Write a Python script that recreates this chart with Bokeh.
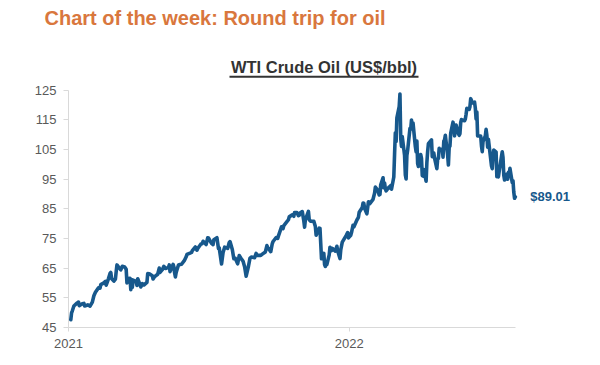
import pandas as pd
from bokeh.plotting import figure
from bokeh.models import (Range1d, FixedTicker, DatetimeTickFormatter, Label,
                          BoxAnnotation, ColumnDataSource, Title)
from bokeh.embed import file_html
from bokeh.resources import INLINE

# ---------------- data (WTI crude, US$/bbl) ----------------
dates_2021 = [
    "2021-01-04", "2021-01-05", "2021-01-06", "2021-01-08", "2021-01-12", "2021-01-14", "2021-01-15",
    "2021-01-19", "2021-01-21", "2021-01-22", "2021-01-26", "2021-01-28", "2021-01-29", "2021-02-01",
    "2021-02-03", "2021-02-05", "2021-02-09", "2021-02-11", "2021-02-12", "2021-02-16", "2021-02-18",
    "2021-02-19", "2021-02-22", "2021-02-24", "2021-02-25", "2021-02-26", "2021-03-01", "2021-03-03",
    "2021-03-04", "2021-03-05", "2021-03-08", "2021-03-10", "2021-03-12", "2021-03-15", "2021-03-17",
    "2021-03-18", "2021-03-19", "2021-03-22", "2021-03-23", "2021-03-24", "2021-03-25", "2021-03-26",
    "2021-03-30", "2021-03-31", "2021-04-01", "2021-04-05", "2021-04-07", "2021-04-09", "2021-04-13",
    "2021-04-14", "2021-04-16", "2021-04-20", "2021-04-21", "2021-04-23", "2021-04-27", "2021-04-29",
    "2021-04-30", "2021-05-03", "2021-05-05", "2021-05-07", "2021-05-11", "2021-05-12", "2021-05-13",
    "2021-05-17", "2021-05-18", "2021-05-19", "2021-05-20", "2021-05-21", "2021-05-24", "2021-05-26",
    "2021-05-28", "2021-06-01", "2021-06-03", "2021-06-04", "2021-06-08", "2021-06-10", "2021-06-11",
    "2021-06-15", "2021-06-17", "2021-06-18", "2021-06-22", "2021-06-24", "2021-06-25", "2021-06-29",
    "2021-07-01", "2021-07-02", "2021-07-06", "2021-07-08", "2021-07-09", "2021-07-13", "2021-07-15",
    "2021-07-16", "2021-07-19", "2021-07-21", "2021-07-23", "2021-07-27", "2021-07-29", "2021-07-30",
    "2021-08-02", "2021-08-04", "2021-08-06", "2021-08-09", "2021-08-11", "2021-08-13", "2021-08-16",
    "2021-08-18", "2021-08-20", "2021-08-23", "2021-08-25", "2021-08-27", "2021-08-31", "2021-09-02",
    "2021-09-03", "2021-09-08", "2021-09-10", "2021-09-14", "2021-09-16", "2021-09-17", "2021-09-21",
    "2021-09-23", "2021-09-24", "2021-09-28", "2021-09-30", "2021-10-01", "2021-10-05", "2021-10-07",
    "2021-10-08", "2021-10-12", "2021-10-14", "2021-10-15", "2021-10-19", "2021-10-21", "2021-10-22",
    "2021-10-25", "2021-10-27", "2021-10-28", "2021-10-29", "2021-11-01", "2021-11-03", "2021-11-04",
    "2021-11-05", "2021-11-09", "2021-11-10", "2021-11-12", "2021-11-16", "2021-11-18", "2021-11-19",
    "2021-11-23", "2021-11-24", "2021-11-26", "2021-11-29", "2021-11-30", "2021-12-01", "2021-12-02",
    "2021-12-03", "2021-12-06", "2021-12-07", "2021-12-09", "2021-12-10", "2021-12-14", "2021-12-16",
    "2021-12-17", "2021-12-20", "2021-12-21", "2021-12-23", "2021-12-28", "2021-12-30", "2021-12-31",
]
prices_2021 = [
    47.62, 49.93, 50.63, 52.24, 53.21, 53.57, 52.36,
    52.98, 53.13, 52.27, 52.61, 52.34, 52.20, 53.55,
    55.69, 56.85, 58.36, 58.24, 59.47, 60.05, 60.52,
    59.24, 61.49, 63.22, 63.53, 61.50, 60.64, 61.28,
    63.83, 66.09, 65.05, 64.44, 65.61, 65.39, 64.60,
    60.00, 61.42, 61.55, 57.76, 61.18, 58.56, 60.97,
    60.55, 59.16, 61.45, 58.65, 59.77, 59.32, 60.18,
    63.15, 63.13, 62.44, 61.35, 62.14, 62.94, 65.01,
    63.58, 64.49, 65.63, 64.90, 65.28, 66.08, 63.82,
    66.27, 65.49, 63.36, 62.05, 63.58, 66.05, 66.21,
    66.32, 67.72, 68.81, 69.62, 70.05, 70.29, 70.91,
    72.12, 71.04, 71.64, 73.06, 73.30, 74.05, 72.98,
    75.23, 75.16, 73.37, 72.94, 74.56, 75.25, 71.65,
    71.81, 66.42, 70.30, 72.07, 71.65, 73.62, 73.95,
    71.26, 68.15, 68.28, 66.48, 69.25, 68.44, 67.29,
    65.46, 62.32, 65.64, 68.36, 68.74, 68.50, 69.99,
    69.29, 69.30, 69.72, 70.46, 72.61, 71.97, 70.56,
    73.30, 73.98, 75.29, 75.03, 75.88, 78.93, 78.30,
    79.35, 80.64, 81.31, 82.28, 82.96, 82.50, 83.76,
    83.76, 82.66, 82.81, 83.57, 84.05, 80.86, 78.81,
    81.27, 84.15, 81.34, 80.79, 80.76, 79.01, 76.10,
    78.50, 78.39, 68.15, 69.95, 66.18, 65.57, 66.50,
    66.26, 69.49, 72.05, 70.94, 71.67, 70.73, 72.38,
    70.86, 68.23, 71.12, 73.79, 75.98, 76.99, 75.21,
]
dates_2022 = [
    "2022-01-03", "2022-01-04", "2022-01-06", "2022-01-07", "2022-01-11", "2022-01-13", "2022-01-14",
    "2022-01-18", "2022-01-19", "2022-01-20", "2022-01-21", "2022-01-24", "2022-01-26", "2022-01-27",
    "2022-01-28", "2022-02-01", "2022-02-03", "2022-02-04", "2022-02-07", "2022-02-09", "2022-02-10",
    "2022-02-11", "2022-02-14", "2022-02-15", "2022-02-16", "2022-02-17", "2022-02-18", "2022-02-22",
    "2022-02-23", "2022-02-24", "2022-02-25", "2022-02-28", "2022-03-01", "2022-03-02", "2022-03-03",
    "2022-03-04", "2022-03-07", "2022-03-08", "2022-03-09", "2022-03-10", "2022-03-11", "2022-03-14",
    "2022-03-15", "2022-03-16", "2022-03-17", "2022-03-18", "2022-03-21", "2022-03-22", "2022-03-23",
    "2022-03-24", "2022-03-25", "2022-03-28", "2022-03-29", "2022-03-30", "2022-03-31", "2022-04-01",
    "2022-04-04", "2022-04-05", "2022-04-06", "2022-04-07", "2022-04-08", "2022-04-11", "2022-04-12",
    "2022-04-13", "2022-04-14", "2022-04-18", "2022-04-19", "2022-04-20", "2022-04-21", "2022-04-22",
    "2022-04-25", "2022-04-26", "2022-04-27", "2022-04-28", "2022-04-29", "2022-05-02", "2022-05-03",
    "2022-05-04", "2022-05-05", "2022-05-06", "2022-05-09", "2022-05-10", "2022-05-11", "2022-05-12",
    "2022-05-13", "2022-05-16", "2022-05-17", "2022-05-18", "2022-05-19", "2022-05-20", "2022-05-23",
    "2022-05-24", "2022-05-25", "2022-05-26", "2022-05-27", "2022-05-31", "2022-06-01", "2022-06-02",
    "2022-06-03", "2022-06-06", "2022-06-07", "2022-06-08", "2022-06-09", "2022-06-10", "2022-06-13",
    "2022-06-14", "2022-06-15", "2022-06-16", "2022-06-17", "2022-06-21", "2022-06-22", "2022-06-23",
    "2022-06-24", "2022-06-27", "2022-06-28", "2022-06-29", "2022-06-30", "2022-07-01", "2022-07-05",
    "2022-07-06", "2022-07-07", "2022-07-08", "2022-07-11", "2022-07-12", "2022-07-13", "2022-07-14",
    "2022-07-15", "2022-07-18", "2022-07-19", "2022-07-20", "2022-07-21", "2022-07-22", "2022-07-25",
    "2022-07-26", "2022-07-27", "2022-07-28", "2022-07-29", "2022-08-01", "2022-08-02", "2022-08-03",
    "2022-08-04", "2022-08-05",
]
prices_2022 = [
    76.08, 76.99, 79.46, 78.90, 81.22, 82.12, 83.82,
    85.43, 86.96, 86.90, 85.14, 83.31, 87.35, 86.61,
    86.82, 88.20, 90.27, 92.31, 91.32, 89.66, 89.88,
    93.10, 95.46, 92.07, 93.66, 91.76, 91.07, 92.35,
    92.10, 92.81, 91.59, 95.72, 103.41, 110.60, 107.67,
    115.68, 119.40, 123.70, 108.70, 106.02, 109.33, 103.01,
    96.44, 95.04, 102.98, 104.70, 112.12, 111.76, 114.93,
    112.34, 113.90, 105.96, 104.24, 107.82, 100.28, 99.27,
    103.28, 101.96, 96.23, 96.03, 98.26, 94.29, 100.60,
    104.25, 106.95, 108.21, 102.56, 102.75, 103.79, 102.07,
    98.54, 101.70, 102.02, 105.36, 104.69, 105.17, 102.41,
    107.81, 108.26, 109.77, 103.09, 99.76, 105.71, 106.13,
    110.49, 114.20, 112.40, 109.59, 112.21, 113.23, 110.29,
    109.77, 110.33, 114.09, 115.07, 114.67, 115.26, 116.87,
    118.87, 118.50, 119.41, 122.11, 121.51, 120.67, 120.93,
    118.93, 115.31, 117.59, 109.56, 109.52, 106.19, 104.27,
    107.62, 109.57, 111.76, 109.78, 105.76, 108.43, 99.50,
    98.53, 102.73, 104.79, 104.09, 95.84, 96.30, 95.78,
    97.59, 102.60, 104.22, 102.26, 96.35, 94.70, 96.70,
    94.98, 97.26, 96.42, 98.62, 93.89, 94.42, 90.66,
    88.54, 89.01,
]
y_ticks = [45, 55, 65, 75, 85, 95, 105, 115, 125]
x_tick_labels = ["2021", "2022"]
last_label = "$89.01"

# ---------------- build ----------------
dates = pd.to_datetime(dates_2021 + dates_2022)
prices = prices_2021 + prices_2022
src = ColumnDataSource(dict(date=dates, price=prices))

BLUE = "#17588C"
GRAY_TXT = "#595959"
AXIS_GRAY = "#D9D9D9"

W, H = 600, 365
BL, BR, BT, BB = 68, 10, 30, 38
frame_w = W - BL - BR
frame_h = H - BT - BB

px_per_day = 280.7 / 365.0
x_start = pd.Timestamp("2021-01-01")
x_end = x_start + pd.Timedelta(days=frame_w / px_per_day)
px_per_unit = 29.675 / 10.0
y_end = 45 + frame_h / px_per_unit

p = figure(width=W, height=H, x_axis_type="datetime", output_backend="svg",
           toolbar_location=None, tools="",
           x_range=Range1d(x_start, x_end), y_range=Range1d(45, y_end),
           min_border_left=BL, min_border_right=BR, min_border_top=BT, min_border_bottom=BB)
p.outline_line_color = None
p.grid.visible = False
p.background_fill_color = "white"
p.border_fill_color = "white"

p.add_layout(Title(text="Chart of the week: Round trip for oil", align="left",
                   offset=44 - BL, standoff=4, vertical_align="bottom",
                   text_font="Liberation Sans", text_font_style="bold",
                   text_font_size="20px", text_color="#D9773D"), "above")

p.line("date", "price", source=src, line_color=BLUE, line_width=3.6,
       line_join="round", line_cap="round")

tick_dates = [pd.Timestamp(f"{t}-01-01") for t in x_tick_labels]
tick_ms = [t.value / 1e6 for t in tick_dates]

xa = p.xaxis[0]
xa.ticker = FixedTicker(ticks=tick_ms)
xa.formatter = DatetimeTickFormatter(years="%Y", months="%Y", days="%Y", hours="%Y",
                                     minutes="%Y", seconds="%Y", milliseconds="%Y",
                                     microseconds="%Y", hourmin="%Y", minsec="%Y")
xa.bounds = (x_start.value / 1e6, dates[-1].value / 1e6)
xa.axis_line_color = AXIS_GRAY
xa.major_tick_line_color = AXIS_GRAY
xa.major_tick_in = 0
xa.major_tick_out = 4
xa.minor_tick_line_color = None
xa.major_label_text_font = "Liberation Sans"
xa.major_label_text_font_size = "13px"
xa.major_label_text_color = GRAY_TXT
xa.major_label_standoff = 7

ya = p.yaxis[0]
ya.ticker = FixedTicker(ticks=y_ticks)
ya.bounds = (y_ticks[0], y_ticks[-1])
ya.axis_line_color = AXIS_GRAY
ya.major_tick_line_color = AXIS_GRAY
ya.major_tick_in = 0
ya.major_tick_out = 5
ya.minor_tick_line_color = None
ya.major_label_text_font = "Liberation Sans"
ya.major_label_text_font_size = "13px"
ya.major_label_text_color = GRAY_TXT
ya.major_label_standoff = 7

# subtitle (screen units relative to the frame: x from left, y from bottom)
p.add_layout(Label(x=323.5 - BL, y=(H - BB) - 73.3 + 7, x_units="screen", y_units="screen",
                   text="WTI Crude Oil (US$/bbl)",
                   text_font="Liberation Sans", text_font_style="bold",
                   text_font_size="16.5px", text_color="#333333",
                   text_baseline="alphabetic", text_align="center"))
p.add_layout(BoxAnnotation(left=229, right=418, top=75.3, bottom=77.3,
                           left_units="canvas", right_units="canvas",
                           top_units="canvas", bottom_units="canvas",
                           fill_color="#333333", fill_alpha=1.0, line_color=None))

p.add_layout(Label(x=dates[-1], y=prices[-1], x_offset=15, text=last_label,
                   text_font="Liberation Sans", text_font_style="bold",
                   text_font_size="13px", text_color=BLUE,
                   text_baseline="middle", text_align="left"))

open("out.html", "w").write(file_html(p, INLINE))
